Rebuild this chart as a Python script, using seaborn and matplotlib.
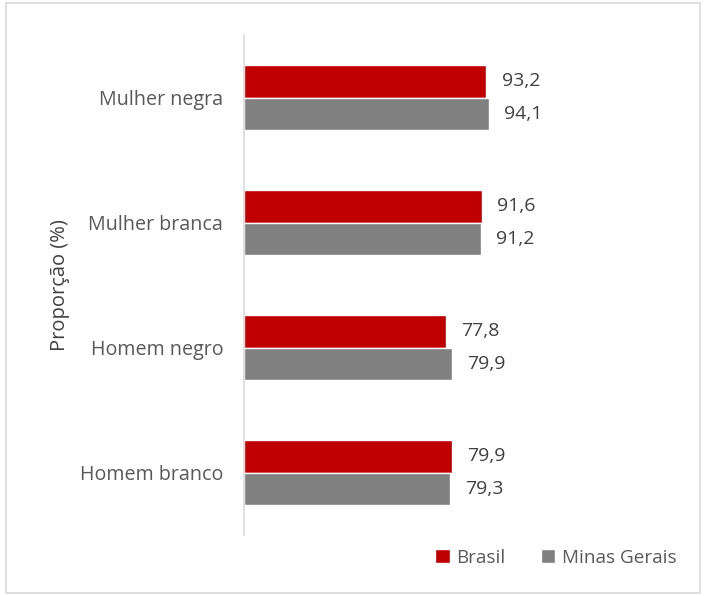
import pandas as pd
import numpy as np
import seaborn as sns
import matplotlib.pyplot as plt
from matplotlib.patches import Rectangle

categories=["Mulher negra","Mulher branca","Homem negro","Homem branco"]
brasil=[93.2,91.6,77.8,79.9]
minas_gerais=[94.1,91.2,79.9,79.3]
series_names=["Brasil","Minas Gerais"]
colors=["#C00000","#808080"]

df=pd.DataFrame({
    "categoria":categories*2,
    "valor":brasil+minas_gerais,
    "serie":[series_names[0]]*len(categories)+[series_names[1]]*len(categories),
})

sns.set_theme(style="white")
plt.rcParams["font.family"]=["Open Sans","DejaVu Sans"]

fig=plt.figure(figsize=(7.04,5.96),dpi=100)
ax=fig.add_axes([244/704,61/596,(686-244)/704,500/596])
sns.barplot(data=df,y="categoria",x="valor",hue="serie",order=categories,hue_order=series_names,
            palette=colors,orient="h",width=0.52,saturation=1,ax=ax,errorbar=None)

for container in ax.containers:
    ax.bar_label(container,labels=[f"{v:.1f}".replace(".",",") for v in container.datavalues],
                 padding=11,fontsize=14,color="#404040")

ax.set_xlim(0,170)
ax.set_xticks([])
ax.set_xlabel("")
ax.set_ylabel("Proporção (%)",fontsize=14.5,color="#404040",labelpad=7)
ax.tick_params(axis="y",length=0,labelsize=14.2,labelcolor="#595959",pad=15)
for s in ["top","right","bottom"]:
    ax.spines[s].set_visible(False)
ax.spines["left"].set_color("#D9D9D9")
ax.spines["left"].set_linewidth(1.2)

handles,labels=ax.get_legend_handles_labels()
ax.get_legend().remove()
fig.legend(handles,labels,loc="center",bbox_to_anchor=(556/704,1-558/596),ncol=2,frameon=False,
           fontsize=13.6,labelcolor="#595959",handlelength=0.75,handleheight=0.75,handletextpad=0.35,columnspacing=1.9)

fig.patches.append(Rectangle((6/704,3/596),694/704,590/596,transform=fig.transFigure,
                             fill=False,edgecolor="#D9D9D9",linewidth=1.2))

fig.savefig("out.png",dpi=100)
